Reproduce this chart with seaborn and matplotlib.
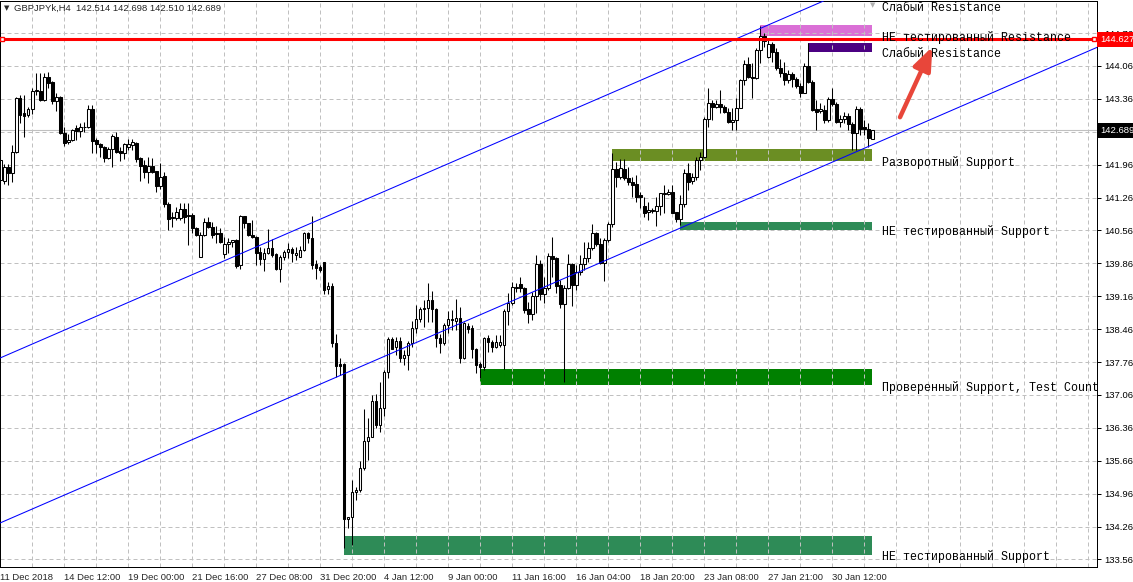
import numpy as np
import pandas as pd
import matplotlib
matplotlib.use("Agg")
import matplotlib.pyplot as plt
import matplotlib.transforms as mtransforms
from matplotlib.patches import Rectangle
import seaborn as sns

title_text = "GBPJPYk,H4  142.514 142.698 142.510 142.689"

# H4 candles (prices)
opens = [
    141.63, 141.61, 141.91, 141.78, 142.23, 143.38, 143.06, 143.02, 143.14, 143.53,
    143.53, 143.34, 143.83, 143.72, 143.31, 143.40, 142.63, 142.44, 142.49, 142.74,
    142.68, 142.76, 142.76, 143.14, 142.49, 142.40, 142.34, 142.10, 142.29, 142.55,
    142.25, 142.21, 142.34, 142.38, 142.42, 142.10, 141.95, 141.80, 141.93, 141.83,
    141.51, 141.72, 141.12, 140.83, 140.83, 140.83, 141.02, 140.89, 140.89, 140.61,
    140.00, 140.46, 140.74, 140.63, 140.51, 140.51, 140.06, 140.27, 140.31, 140.36,
    139.83, 140.87, 140.72, 140.46, 140.42, 140.10, 139.95, 140.08, 140.19, 140.06,
    139.74, 140.00, 140.10, 140.17, 140.04, 140.00, 140.14, 140.51, 140.40, 139.85,
    139.78, 139.89, 139.31, 139.38, 138.17, 137.72, 137.72, 134.42, 134.46, 134.99,
    135.04, 135.51, 136.08, 136.17, 136.93, 136.42, 136.78, 137.55, 138.25, 138.08,
    138.21, 137.85, 137.91, 138.17, 138.49, 138.68, 138.91, 138.91, 139.08, 138.89,
    138.27, 138.17, 138.55, 138.68, 138.63, 138.70, 137.85, 138.53, 138.49, 138.04,
    137.72, 137.66, 138.27, 138.19, 138.08, 138.12, 138.12, 138.85, 139.02, 139.34,
    139.42, 139.34, 138.89, 138.78, 139.17, 139.85, 139.21, 139.34, 140.02, 139.97,
    139.40, 139.00, 139.34, 139.85, 139.40, 139.68, 139.85, 139.97, 140.19, 140.51,
    140.27, 139.87, 140.36, 140.70, 141.87, 141.70, 141.87, 141.68, 141.59, 141.55,
    141.32, 141.08, 140.95, 140.97, 140.97, 141.08, 141.34, 141.34, 141.38, 140.95,
    140.81, 141.12, 141.78, 141.61, 141.70, 142.06, 142.12, 142.93, 143.27, 143.19,
    143.25, 143.19, 143.08, 142.87, 142.91, 143.17, 143.76, 144.10, 143.83, 143.81,
    144.40, 144.70, 144.25, 144.53, 144.36, 144.02, 143.91, 143.76, 143.89, 143.78,
    143.63, 143.49, 144.06, 143.72, 143.14, 143.10, 143.12, 142.91, 143.36, 143.25,
    142.87, 142.93, 143.00, 142.83, 142.63, 143.14, 142.76, 142.72, 142.514,
]
highs = [
    142.10, 141.97, 141.97, 142.38, 143.40, 143.44, 143.44, 143.19, 143.59, 143.91,
    143.91, 143.91, 143.93, 143.74, 143.49, 143.42, 142.76, 142.61, 142.72, 142.80,
    142.85, 142.87, 143.23, 143.23, 142.53, 142.42, 142.36, 142.34, 142.61, 142.66,
    142.34, 142.42, 142.51, 142.51, 142.44, 142.12, 142.06, 142.12, 142.10, 141.83,
    141.99, 141.80, 141.17, 140.95, 141.06, 141.15, 141.15, 141.15, 140.93, 140.63,
    140.53, 140.83, 140.85, 140.74, 140.66, 140.61, 140.42, 140.40, 140.36, 140.38,
    140.89, 140.87, 140.72, 140.78, 140.44, 140.21, 140.19, 140.59, 140.38, 140.08,
    140.04, 140.14, 140.29, 140.21, 140.21, 140.23, 140.53, 140.53, 140.87, 139.93,
    139.83, 139.89, 139.46, 139.44, 138.36, 137.85, 137.74, 134.46, 135.25, 135.10,
    135.66, 136.76, 136.57, 137.06, 137.08, 137.34, 137.59, 138.30, 138.30, 138.30,
    138.30, 138.02, 138.21, 138.63, 138.97, 138.93, 139.08, 139.44, 139.27, 138.91,
    138.36, 138.59, 138.85, 138.87, 139.10, 138.93, 138.61, 138.59, 138.55, 138.06,
    137.76, 138.30, 138.34, 138.23, 138.34, 138.34, 138.89, 139.23, 139.46, 139.44,
    139.57, 139.36, 139.04, 139.25, 140.04, 139.93, 139.57, 140.08, 140.42, 140.00,
    139.51, 139.40, 140.06, 139.87, 139.83, 140.04, 140.31, 140.31, 140.70, 140.53,
    140.40, 140.40, 140.74, 142.21, 142.02, 142.08, 142.08, 141.91, 141.70, 141.74,
    141.38, 141.27, 141.17, 141.04, 141.27, 141.36, 141.53, 141.44, 141.53, 140.95,
    141.32, 141.87, 141.99, 141.78, 142.12, 142.23, 142.97, 143.59, 143.34, 143.34,
    143.55, 143.23, 143.17, 143.17, 143.38, 143.78, 144.19, 144.25, 144.12, 144.44,
    144.92, 144.76, 144.66, 144.57, 144.44, 144.21, 144.15, 143.98, 143.93, 143.83,
    143.70, 144.12, 144.55, 143.76, 143.34, 143.27, 143.23, 143.40, 143.59, 143.29,
    143.02, 143.08, 143.06, 142.87, 143.21, 143.19, 142.91, 142.85, 142.698,
]
lows = [
    141.59, 141.55, 141.53, 141.59, 142.21, 142.85, 142.55, 142.97, 143.04, 143.44,
    143.31, 143.31, 143.59, 143.25, 143.10, 142.61, 142.36, 142.40, 142.46, 142.49,
    142.55, 142.66, 142.74, 142.21, 142.21, 142.12, 142.02, 142.08, 141.91, 142.21,
    142.04, 142.08, 142.27, 142.27, 142.02, 141.61, 141.68, 141.57, 141.78, 141.38,
    141.44, 141.06, 140.57, 140.63, 140.78, 140.78, 140.72, 140.25, 140.51, 140.44,
    140.00, 140.44, 140.61, 140.40, 140.29, 140.29, 139.97, 140.08, 140.21, 139.76,
    139.74, 140.61, 140.44, 140.40, 139.83, 139.83, 139.70, 140.06, 140.00, 139.72,
    139.46, 139.93, 139.97, 139.89, 139.93, 140.00, 140.12, 140.29, 139.74, 139.53,
    139.68, 139.21, 139.21, 138.08, 137.44, 137.49, 133.80, 134.23, 133.87, 134.83,
    134.99, 135.46, 135.68, 136.17, 136.36, 136.27, 136.61, 137.42, 138.04, 137.91,
    137.76, 137.70, 137.59, 138.08, 138.38, 138.61, 138.51, 138.61, 138.61, 138.08,
    137.95, 138.12, 138.38, 138.44, 138.44, 137.74, 137.83, 138.38, 137.85, 137.53,
    137.42, 137.59, 137.98, 137.98, 138.06, 138.08, 137.61, 138.55, 138.97, 139.25,
    139.25, 138.80, 138.59, 138.66, 138.80, 139.08, 139.02, 139.29, 139.57, 139.23,
    138.91, 137.34, 139.31, 138.95, 139.29, 139.61, 139.72, 139.89, 140.14, 140.23,
    139.85, 139.48, 140.31, 140.63, 141.49, 141.66, 141.63, 141.53, 141.27, 141.17,
    141.04, 140.85, 140.78, 140.93, 140.66, 140.89, 140.93, 141.32, 140.93, 140.74,
    140.68, 141.06, 141.42, 141.55, 141.63, 141.85, 142.10, 142.76, 142.91, 143.17,
    143.06, 143.06, 142.85, 142.70, 142.70, 143.17, 143.66, 143.81, 143.38, 143.79,
    144.12, 144.46, 144.23, 144.15, 143.98, 143.83, 143.66, 143.70, 143.61, 143.59,
    143.40, 143.49, 143.70, 143.10, 142.70, 143.06, 142.85, 142.87, 143.21, 142.85,
    142.76, 142.85, 142.70, 142.27, 142.27, 142.59, 142.59, 142.34, 142.510,
]
closes = [
    142.06, 141.91, 141.78, 142.23, 143.38, 143.02, 143.00, 143.14, 143.53, 143.54,
    143.34, 143.83, 143.70, 143.31, 143.40, 142.63, 142.42, 142.49, 142.70, 142.68,
    142.76, 142.77, 143.14, 142.46, 142.40, 142.34, 142.10, 142.29, 142.57, 142.23,
    142.21, 142.40, 142.40, 142.44, 142.08, 141.93, 141.80, 141.93, 141.80, 141.51,
    141.70, 141.12, 140.81, 140.84, 140.95, 141.02, 140.85, 140.87, 140.61, 140.46,
    140.46, 140.74, 140.63, 140.46, 140.49, 140.31, 140.27, 140.31, 140.36, 139.80,
    140.87, 140.72, 140.46, 140.42, 140.08, 139.95, 140.08, 140.19, 140.04, 139.74,
    140.00, 140.10, 140.17, 140.08, 140.08, 140.14, 140.51, 140.40, 139.83, 139.76,
    139.72, 139.29, 139.38, 138.17, 137.68, 137.68, 134.42, 134.46, 134.99, 135.04,
    135.51, 136.08, 136.17, 136.93, 136.42, 136.78, 137.55, 138.25, 138.04, 138.21,
    137.85, 137.91, 138.17, 138.49, 138.68, 138.89, 138.89, 139.08, 138.89, 138.27,
    138.17, 138.55, 138.68, 138.66, 138.70, 137.85, 138.59, 138.46, 138.04, 137.70,
    137.66, 138.27, 138.19, 138.08, 138.19, 138.19, 138.85, 139.02, 139.36, 139.36,
    139.34, 138.87, 138.78, 139.17, 139.85, 139.21, 139.34, 140.02, 139.95, 139.38,
    139.00, 139.34, 139.85, 139.40, 139.68, 139.85, 139.97, 140.19, 140.51, 140.27,
    139.87, 140.36, 140.70, 141.87, 141.70, 141.89, 141.68, 141.59, 141.53, 141.27,
    141.27, 140.93, 141.00, 141.00, 141.08, 141.36, 141.36, 141.38, 140.93, 140.81,
    141.12, 141.78, 141.59, 141.70, 142.06, 142.12, 142.93, 143.27, 143.19, 143.25,
    143.19, 143.08, 142.87, 142.91, 143.17, 143.76, 144.10, 143.83, 143.81, 144.40,
    144.70, 144.59, 144.53, 144.36, 144.02, 143.91, 143.76, 143.89, 143.78, 143.63,
    143.49, 144.06, 143.72, 143.12, 143.08, 143.14, 142.91, 143.36, 143.25, 142.87,
    142.93, 143.00, 142.83, 142.63, 143.14, 142.72, 142.72, 142.53, 142.689,
]

time_labels = ["11 Dec 2018", "14 Dec 12:00", "19 Dec 00:00", "21 Dec 16:00", "27 Dec 08:00",
               "31 Dec 20:00", "4 Jan 12:00", "9 Jan 00:00", "11 Jan 16:00", "16 Jan 04:00",
               "18 Jan 20:00", "23 Jan 08:00", "27 Jan 21:00", "30 Jan 12:00"]
label_bars = [0, 16, 32, 48, 64, 80, 96, 112, 128, 144, 160, 176, 192, 208]

price_ticks = [133.56, 134.26, 134.96, 135.66, 136.36, 137.06, 137.76, 138.46, 139.16,
               139.86, 140.56, 141.26, 141.96, 142.66, 143.36, 144.06, 144.76]
bid_price = 142.689
level_price = 144.627

# support / resistance zones (the first one lies above the visible range, only its label shows)
zone_names = ["Слабый Resistance", "НЕ тестированный Resistance", "Слабый Resistance",
              "Разворотный Support", "НЕ тестированный Support",
              "Проверенный Support, Test Count", "НЕ тестированный Support"]
zone_start = [190, 190, 202, 153, 170, 120, 86]
zone_low = [145.34, 144.70, 144.36, 142.04, 140.57, 137.27, 133.66]
zone_high = [145.90, 144.93, 144.55, 142.29, 140.74, 137.62, 134.06]
zone_colors = ["none", "orchid", "indigo", "olivedrab", "seagreen", "green", "seagreen"]

channel_upper = [(0, 137.85), (200, 145.23)]
channel_lower = [(0, 134.34), (200, 141.72)]
arrow_tail = (224.9, 142.97)
arrow_head = (233.0, 144.47)

assert len(opens) == len(highs) == len(lows) == len(closes), (len(opens), len(highs), len(lows), len(closes))

df = pd.DataFrame({"open": opens, "high": highs, "low": lows, "close": closes})
df["bar"] = np.arange(len(df))
df["up"] = df["close"] >= df["open"]
last_bar = df["bar"].iloc[-1]

sns.set_style("white")
plt.rcParams["font.family"] = ["Liberation Sans", "DejaVu Sans"]

fig = plt.figure(figsize=(11.33, 5.82), dpi=100)
ax = fig.add_axes([0, 15 / 582, 1097 / 1133, 566 / 582])
ax.set_xlim(-0.1, 274.15)
ax.set_ylim(133.40, 145.443)

# zones + their labels
label_trans = mtransforms.offset_copy(ax.transData, fig=fig, x=0, y=-2, units="dots")
for name, start, lo, hi, col in zip(zone_names, zone_start, zone_low, zone_high, zone_colors):
    ax.add_patch(Rectangle((start, lo), last_bar - start, hi - lo, fc=col, ec="none", zorder=1))
    ax.text(last_bar + 2.4, lo, name, family="Liberation Mono", size=8.4, va="center", ha="left",
            color="black", clip_on=True, zorder=4, transform=label_trans)

# grid
ax.set_axisbelow("line")
grid_kw = dict(color="#c0c0c0", ls=(0, (4, 3)), lw=0.72)
ax.set_yticks(price_ticks)
ax.set_yticklabels([f"{p:.3f}" for p in price_ticks])
ax.set_xticks(label_bars)
ax.set_xticklabels(time_labels)
ax.set_xticks(np.arange(8, 274, 8), minor=True)
ax.grid(True, which="major", axis="y", **grid_kw)
ax.grid(True, which="both", axis="x", **grid_kw)

ax.axhline(bid_price, color="#c0c0c0", lw=0.8, zorder=1.6)

# candles
ax.vlines(df["bar"], df["low"], df["high"], color="black", lw=0.75, zorder=2)
body_low = np.minimum(df["open"], df["close"])
body_h = (df["close"] - df["open"]).abs()
ax.bar(df["bar"], body_h, bottom=body_low, width=0.55,
       color=np.where(df["up"], "white", "black"), edgecolor="black", linewidth=0.75, zorder=2.1)

# channel
ax.axline(channel_upper[0], channel_upper[1], color="blue", lw=0.75, zorder=3)
ax.axline(channel_lower[0], channel_lower[1], color="blue", lw=0.75, zorder=3)

# red level
trans = mtransforms.blended_transform_factory(ax.transAxes, ax.transData)
ax.axhline(level_price, color="red", lw=2.2, zorder=3.5)
ax.plot([0.002, 0.997], [level_price, level_price], transform=trans, ls="none", marker="s",
        ms=3.5, mfc="white", mec="red", mew=1, clip_on=False, zorder=3.6)

ax.annotate("", xy=arrow_head, xytext=arrow_tail, zorder=5,
            arrowprops=dict(arrowstyle="-|>,head_length=1.4,head_width=0.55", color="#e8463a",
                            lw=3.2, shrinkA=0, shrinkB=0))

# axes styling
ax.yaxis.tick_right()
ax.tick_params(axis="y", direction="out", length=3, width=0.72, pad=2, labelsize=6.8, colors="black")
ax.tick_params(axis="x", which="major", direction="out", length=3, width=0.72, pad=1.5, labelsize=6.8)
ax.tick_params(axis="x", which="minor", length=0)
for lbl in ax.get_xticklabels():
    lbl.set_ha("left")
for sp in ax.spines.values():
    sp.set_color("black")
    sp.set_linewidth(0.72)

# price boxes on the right scale
box_trans = mtransforms.offset_copy(trans, fig=fig, x=3, y=0, units="dots")
ax.text(1.0, level_price, f"{level_price:.3f}", transform=box_trans, ha="left", va="center",
        size=6.8, color="white", clip_on=False, zorder=10,
        bbox=dict(boxstyle="square,pad=0.3", fc="red", ec="none"))
ax.text(1.0, bid_price, f"{bid_price:.3f}", transform=box_trans, ha="left", va="center",
        size=6.8, color="white", clip_on=False, zorder=10,
        bbox=dict(boxstyle="square,pad=0.3", fc="black", ec="none"))

fig.text(4 / 1133, 1 - 8 / 582, "▼", size=5, va="center", ha="left", family="DejaVu Sans")
fig.text(14 / 1133, 1 - 8 / 582, title_text, size=6.8, va="center", ha="left")
fig.text(870 / 1133, 1 - 5 / 582, "▼", size=5, va="center", ha="left", color="#b0b0b0",
         family="DejaVu Sans")

fig.savefig("out.png", dpi=100)
